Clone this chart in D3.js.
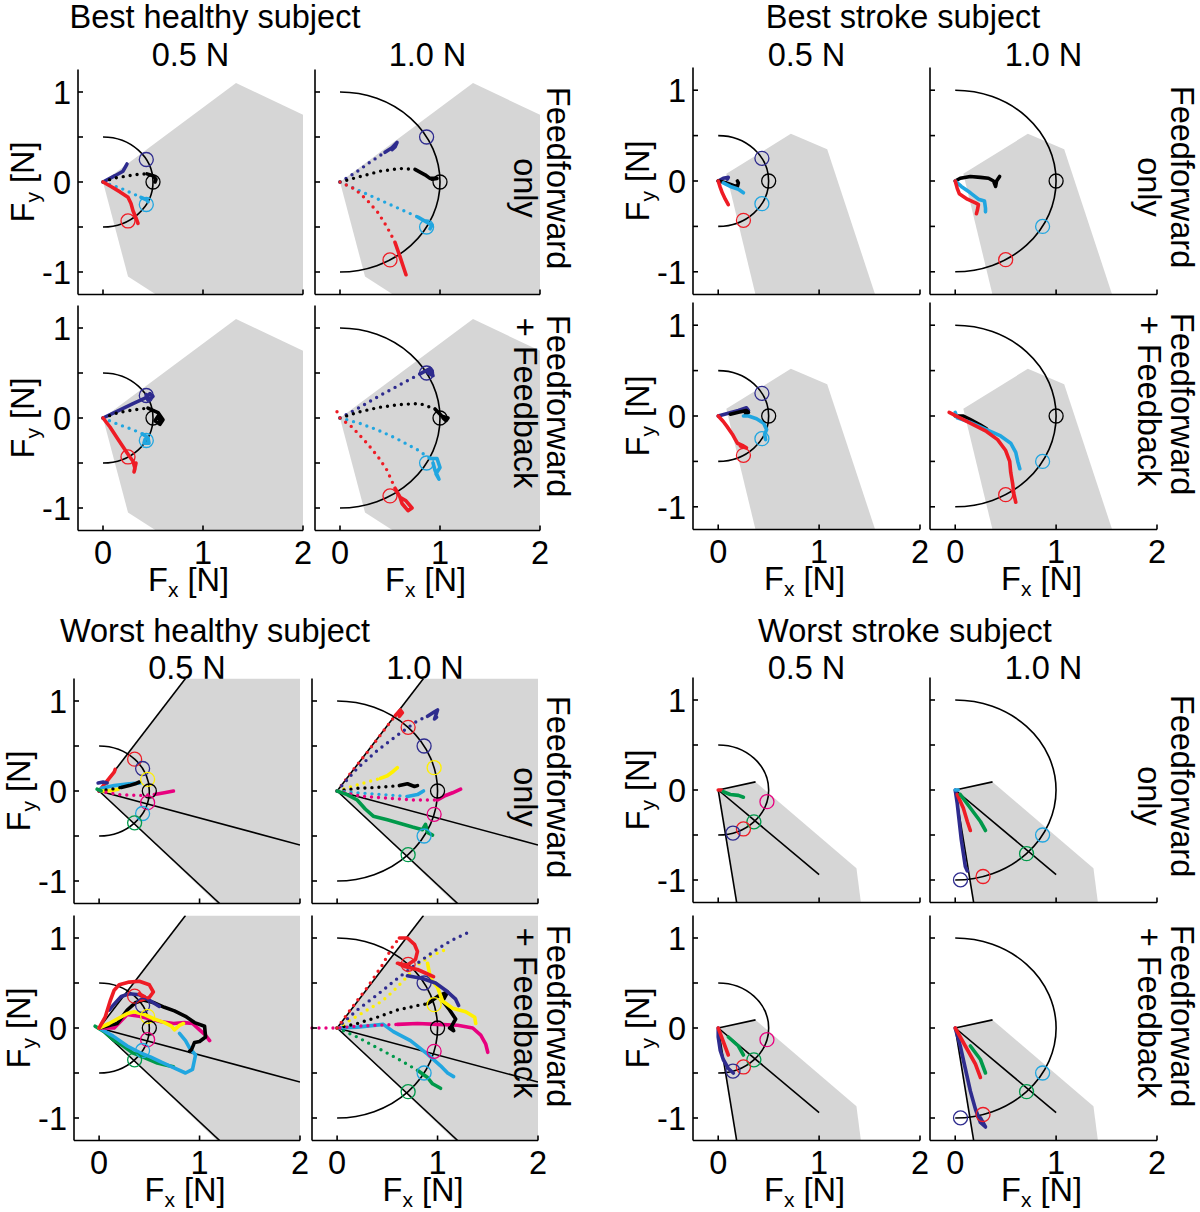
<!DOCTYPE html>
<html><head><meta charset="utf-8">
<script src="https://cdn.jsdelivr.net/npm/d3@7"></script>
<style>
body{margin:0;background:#fff}
text{font-family:"Liberation Sans",Arial,Helvetica,sans-serif;fill:#000}
</style>
</head><body>
<svg id="chart" width="1200" height="1212"></svg>
<script>
// ---------------- DATA ----------------
const subjects = ["Best healthy subject","Best stroke subject","Worst healthy subject","Worst stroke subject"];
const forceLevels = ["0.5 N","1.0 N"];
const targetRadii = [0.5, 1.0];
const conditions = [["Feedforward","only"],["Feedforward","+ Feedback"]];
const xTicks = [0,1,2];
const xTickLabels = ["0","1","2"];
const yTicks = [-1,-0.5,0,0.5,1];
const yTickLabeled = [-1,0,1];
const yTickLabels = ["-1","0","1"];
const colorKeys = ["navy","black","cyan","red","yellow","magenta","green"];
const colorValues = ["#2e2b8e","#000000","#21a6e0","#ee1c25","#fff000","#e8007f","#00994a"];

// workspaces (force space reachable region)
const wsBestHealthy = [[0,0],[1.33,1.1],[2.05,0.72],[2.05,-1.3],[0.6,-1.3],[0.25,-1.05]];
const wsBestStroke  = [[0.08,0.08],[0.72,0.52],[1.08,0.35],[1.57,-1.3],[0.38,-1.3]];
const wsWorstHealthy = [[0,0],[0.86,1.25],[2.05,1.25],[2.05,-1.3],[1.22,-1.3]];
const wsWorstStroke = [[0,0],[0.37,0.09],[1.37,-0.87],[1.42,-1.3],[0.19,-1.3]];
const linesWorstHealthy = [[[0,0],[0.86,1.25]],[[0,0],[1.2,-1.25]],[[0,0],[2.0,-0.6]]];
const linesWorstStroke = [[[0,0],[0.37,0.09]],[[0,0],[0.19,-1.3]],[[0,0],[1.0,-0.94]]];

// targets: [angle in degrees, colour]
const targetsBest = [[30,"navy"],[0,"black"],[-30,"cyan"],[-60,"red"]];
const targetsBestStroke10 = [[0,"black"],[-30,"cyan"],[-60,"red"]];
const targetsWorstHealthy = [[45,"red"],[30,"navy"],[15,"yellow"],[0,"black"],[-15,"magenta"],[-30,"cyan"],[-45,"green"]];
const targetsWorstStroke05 = [[-15,"magenta"],[-45,"green"],[-60,"red"],[-73,"navy"]];
const targetsWorstStroke10 = [[-30,"cyan"],[-45,"green"],[-74,"red"],[-87,"navy"]];

// trajectories: c = colour, dots = fast (dotted) part, line = slow (solid) part
const bhFF05 = [
 {c:"navy", line:[[0,0],[0.12,0.07],[0.2,0.12],[0.23,0.18],[0.24,0.2],[0.22,0.16]]},
 {c:"black", dots:[[0,0],[0.1,0.04],[0.24,0.067],[0.35,0.085],[0.44,0.09]], line:[[0.44,0.09],[0.5,0.07],[0.53,0.03],[0.52,0.0]]},
 {c:"cyan", dots:[[0,0],[0.2,-0.08],[0.38,-0.17]], line:[[0.38,-0.17],[0.44,-0.2],[0.45,-0.22]]},
 {c:"red", line:[[0,0],[0.08,-0.05],[0.17,-0.11],[0.25,-0.17],[0.28,-0.24],[0.3,-0.32],[0.33,-0.4],[0.35,-0.46]]}
];
const bhFF10 = [
 {c:"navy", dots:[[0,0],[0.15,0.1],[0.3,0.22],[0.45,0.33]], line:[[0.45,0.33],[0.52,0.38],[0.57,0.44],[0.55,0.39],[0.52,0.36]]},
 {c:"black", dots:[[0,0],[0.2,0.06],[0.4,0.12],[0.6,0.15],[0.75,0.14]], line:[[0.75,0.14],[0.85,0.08],[0.9,0.04],[0.97,0.04],[0.92,0.03]]},
 {c:"cyan", dots:[[0,0],[0.2,-0.1],[0.4,-0.2],[0.6,-0.3],[0.78,-0.39]], line:[[0.78,-0.39],[0.92,-0.48],[0.9,-0.52]]},
 {c:"red", dots:[[0,0],[0.15,-0.08],[0.27,-0.2],[0.38,-0.34],[0.47,-0.5],[0.55,-0.67]], line:[[0.55,-0.67],[0.6,-0.83],[0.63,-0.93],[0.66,-1.03]]}
];
const bhFB05 = [
 {c:"navy", line:[[0,0],[0.15,0.08],[0.3,0.16],[0.42,0.22],[0.47,0.27],[0.5,0.24],[0.45,0.2],[0.43,0.26]]},
 {c:"black", dots:[[0,0],[0.15,0.06],[0.3,0.09],[0.45,0.11]], line:[[0.45,0.11],[0.55,0.06],[0.6,-0.02],[0.57,-0.07],[0.52,-0.03],[0.55,0.02],[0.58,-0.05]]},
 {c:"cyan", dots:[[0,0],[0.15,-0.07],[0.3,-0.13],[0.4,-0.18]], line:[[0.4,-0.18],[0.45,-0.22],[0.46,-0.28],[0.41,-0.28],[0.42,-0.24]]},
 {c:"red", line:[[0,0],[0.07,-0.1],[0.14,-0.22],[0.2,-0.32],[0.26,-0.42],[0.3,-0.48],[0.32,-0.56],[0.31,-0.6],[0.33,-0.5]]}
];
const bhFB10 = [
 {c:"navy", dots:[[0,0],[0.2,0.12],[0.4,0.25],[0.6,0.37],[0.8,0.49]], line:[[0.8,0.49],[0.9,0.55],[0.93,0.47],[0.88,0.5],[0.92,0.52]]},
 {c:"black", dots:[[0,0],[0.2,0.07],[0.4,0.12],[0.6,0.15],[0.8,0.16],[0.95,0.1]], line:[[0.95,0.1],[1.02,0.02],[1.08,0.0],[1.06,-0.03],[1.03,0.0]]},
 {c:"cyan", dots:[[0,0],[0.2,-0.06],[0.37,-0.13],[0.55,-0.22],[0.77,-0.35],[0.9,-0.45]], line:[[0.9,-0.45],[0.97,-0.45],[1.0,-0.55],[0.96,-0.62],[0.99,-0.68],[0.95,-0.58],[0.93,-0.5]]},
 {c:"red", dots:[[-0.03,0.07],[0,0],[0.12,-0.1],[0.27,-0.28],[0.38,-0.43],[0.47,-0.58],[0.55,-0.78]], line:[[0.55,-0.78],[0.6,-0.88],[0.66,-0.92],[0.72,-1.0],[0.68,-1.03],[0.62,-0.95],[0.6,-0.88]]}
];
const bsFF05 = [
 {c:"navy", line:[[0,0],[0.05,0.03],[0.1,0.04],[0.09,0.02]]},
 {c:"black", line:[[0,0],[0.08,-0.02],[0.15,-0.05],[0.19,-0.06],[0.2,-0.02],[0.19,0.0]]},
 {c:"cyan", line:[[0.05,-0.02],[0.12,-0.06],[0.2,-0.09],[0.25,-0.13]]},
 {c:"red", line:[[0,0],[0.02,-0.07],[0.04,-0.13],[0.07,-0.2],[0.1,-0.26]]}
];
const bsFF10 = [
 {c:"black", line:[[0,0],[0.05,0.03],[0.15,0.05],[0.25,0.04],[0.33,0.03],[0.38,0.0],[0.4,-0.06],[0.41,0.0],[0.44,0.05]]},
 {c:"cyan", line:[[0,0],[0.06,-0.06],[0.15,-0.13],[0.23,-0.2],[0.29,-0.22],[0.3,-0.3],[0.3,-0.34]]},
 {c:"red", line:[[0,0],[0.02,-0.08],[0.04,-0.14],[0.12,-0.2],[0.2,-0.24],[0.23,-0.26],[0.22,-0.32],[0.21,-0.36]]}
];
const bsFB05 = [
 {c:"navy", line:[[0,0],[0.1,0.03],[0.2,0.06],[0.28,0.09],[0.3,0.06]]},
 {c:"black", line:[[0.12,0.02],[0.2,0.04],[0.28,0.06],[0.3,0.04],[0.27,0.02]]},
 {c:"cyan", line:[[0.25,0.0],[0.3,0.0],[0.38,-0.03],[0.45,-0.08],[0.48,-0.15],[0.46,-0.2],[0.47,-0.26]]},
 {c:"red", line:[[0,0],[0.05,-0.06],[0.09,-0.12],[0.14,-0.2],[0.17,-0.26],[0.19,-0.3],[0.25,-0.33],[0.28,-0.35],[0.22,-0.33]]}
];
const bsFB10 = [
 {c:"black", line:[[0,0],[0.08,0.0],[0.15,-0.04],[0.25,-0.1],[0.31,-0.14]]},
 {c:"cyan", line:[[0,0.04],[0.02,-0.02],[0.15,-0.07],[0.31,-0.15],[0.45,-0.22],[0.55,-0.3],[0.6,-0.4],[0.62,-0.5],[0.64,-0.58]]},
 {c:"red", line:[[-0.06,0.04],[0.1,-0.05],[0.31,-0.17],[0.42,-0.26],[0.5,-0.38],[0.54,-0.5],[0.55,-0.62],[0.57,-0.75],[0.58,-0.85],[0.6,-0.95]]}
];
const whFF05 = [
 {c:"red", line:[[0,0],[0.05,0.07],[0.1,0.14],[0.15,0.21],[0.16,0.24]]},
 {c:"navy", line:[[-0.01,0.09],[0.04,0.1],[0.08,0.09]]},
 {c:"cyan", line:[[0.02,0.03],[0.15,0.06],[0.3,0.08],[0.41,0.09]]},
 {c:"yellow", line:[[0,0],[0.08,0.0],[0.15,0.01],[0.19,0.02]]},
 {c:"black", dots:[[0,0],[0.12,0.02],[0.22,0.04]], line:[[0.22,0.04],[0.3,0.06],[0.36,0.08],[0.4,0.1]]},
 {c:"magenta", dots:[[0,0],[0.2,-0.04],[0.4,-0.05],[0.55,-0.04]], line:[[0.55,-0.04],[0.65,-0.02],[0.74,0.0]]},
 {c:"green", line:[[-0.02,0.02],[0.02,0.0]]}
];
const whFF10 = [
 {c:"red", dots:[[0,0],[0.15,0.22],[0.3,0.43],[0.45,0.65],[0.58,0.84]], line:[[0.58,0.84],[0.63,0.9],[0.65,0.87],[0.62,0.83]]},
 {c:"navy", dots:[[0,0],[0.2,0.25],[0.4,0.45],[0.6,0.62],[0.8,0.78],[0.9,0.83]], line:[[0.9,0.83],[0.97,0.88],[1.0,0.9],[0.97,0.8],[0.99,0.82]]},
 {c:"yellow", dots:[[0,0],[0.15,0.05],[0.3,0.1],[0.43,0.14]], line:[[0.43,0.14],[0.5,0.17],[0.56,0.22],[0.6,0.26]]},
 {c:"black", dots:[[0,0],[0.2,0.03],[0.4,0.04],[0.62,0.06]], line:[[0.62,0.06],[0.7,0.08],[0.77,0.05],[0.8,0.06]]},
 {c:"cyan", dots:[[0,0],[0.2,-0.02],[0.45,-0.04],[0.7,-0.06]], line:[[0.7,-0.06],[0.8,-0.04],[0.86,0.0]]},
 {c:"magenta", dots:[[0,0],[0.25,-0.06],[0.5,-0.08],[0.75,-0.1],[1.0,-0.1]], line:[[1.0,-0.1],[1.08,-0.05],[1.15,-0.02],[1.23,0.02]]},
 {c:"green", line:[[0,0],[0.1,-0.04],[0.2,-0.1],[0.28,-0.2],[0.36,-0.28],[0.5,-0.32],[0.63,-0.36],[0.75,-0.4],[0.85,-0.43],[0.88,-0.37],[0.9,-0.46],[0.95,-0.49]]}
];
const whFB05 = [
 {c:"green", line:[[-0.04,0.02],[0.05,-0.04],[0.14,-0.13],[0.24,-0.2],[0.34,-0.28],[0.45,-0.33],[0.58,-0.39],[0.66,-0.41],[0.74,-0.43]]},
 {c:"cyan", line:[[0,0],[0.14,-0.09],[0.28,-0.2],[0.4,-0.27],[0.51,-0.32],[0.62,-0.38],[0.74,-0.44],[0.86,-0.5],[0.93,-0.46],[0.96,-0.3],[0.9,-0.22],[0.86,-0.14],[0.8,-0.06]]},
 {c:"magenta", line:[[0,0],[0.15,0.0],[0.22,0.08],[0.28,0.15],[0.4,0.13],[0.51,0.1],[0.62,0.07],[0.74,0.05],[0.85,0.06],[0.93,0.05],[1.0,-0.02],[1.06,-0.08],[1.1,-0.14]]},
 {c:"black", line:[[0,0],[0.18,0.05],[0.28,0.2],[0.36,0.28],[0.44,0.31],[0.55,0.28],[0.65,0.23],[0.75,0.19],[0.86,0.13],[0.95,0.06],[1.05,0.02],[1.06,-0.1],[1.0,-0.15],[0.95,-0.16],[0.92,-0.24],[0.9,-0.26]]},
 {c:"navy", line:[[0.1,0.2],[0.17,0.29],[0.22,0.35],[0.3,0.38],[0.4,0.37],[0.47,0.33],[0.54,0.28],[0.6,0.24]]},
 {c:"yellow", line:[[0,0],[0.1,0.05],[0.18,0.1],[0.28,0.16],[0.35,0.18],[0.45,0.15],[0.55,0.1],[0.65,0.06],[0.72,0.02],[0.75,-0.02],[0.8,0.03],[0.84,0.05]]},
 {c:"red", line:[[0,0],[0.06,0.12],[0.11,0.3],[0.15,0.42],[0.2,0.48],[0.3,0.51],[0.4,0.52],[0.5,0.48],[0.54,0.4],[0.5,0.34],[0.42,0.31],[0.45,0.35],[0.4,0.38]]}
];
const whFB10 = [
 {c:"green", dots:[[0,0],[0.2,-0.1],[0.4,-0.22],[0.6,-0.34],[0.8,-0.47]], line:[[0.8,-0.47],[0.9,-0.55],[0.95,-0.62],[1.03,-0.67]]},
 {c:"cyan", line:[[0,0],[0.2,0.01],[0.46,0.04],[0.56,-0.04],[0.73,-0.14],[0.9,-0.29],[1.03,-0.42],[1.1,-0.5],[1.16,-0.54]]},
 {c:"magenta", dots:[[-0.25,0.0],[-0.1,0.0],[0,0],[0.2,0.02],[0.4,0.03],[0.6,0.04]], line:[[0.6,0.04],[0.8,0.05],[1.0,0.04],[1.2,0.03],[1.35,0.0],[1.43,-0.08],[1.48,-0.18],[1.5,-0.27]]},
 {c:"black", dots:[[0,0],[0.2,0.05],[0.4,0.12],[0.6,0.2],[0.8,0.25],[0.9,0.27]], line:[[0.9,0.27],[1.0,0.35],[1.1,0.4],[1.05,0.3],[1.12,0.2],[1.18,0.1],[1.14,0.02],[1.16,-0.03],[1.12,0.0]]},
 {c:"yellow", dots:[[0,0],[0.15,0.1],[0.3,0.2],[0.45,0.3],[0.55,0.4],[0.68,0.55],[0.8,0.7],[0.93,0.8],[1.1,0.88]], line:[[0.9,0.72],[0.93,0.55],[1.0,0.45],[1.05,0.3],[1.15,0.22],[1.28,0.18],[1.37,0.12],[1.38,0.05]]},
 {c:"navy", dots:[[0,0],[0.2,0.2],[0.4,0.37],[0.6,0.55],[0.8,0.72],[1.0,0.88],[1.15,0.98],[1.34,1.08]], line:[[0.7,0.58],[0.85,0.55],[0.98,0.5],[1.08,0.42],[1.18,0.32],[1.21,0.25]]},
 {c:"red", dots:[[0,0],[0.15,0.23],[0.3,0.45],[0.45,0.7],[0.55,0.9],[0.62,1.0]], line:[[0.62,1.0],[0.7,1.0],[0.77,0.93],[0.8,0.85],[0.78,0.76],[0.7,0.7],[0.6,0.72],[0.68,0.68],[0.8,0.65],[0.9,0.6],[0.96,0.57]]}
];
const wsFF05 = [
 {c:"red", line:[[0,0],[0.03,0.0]]},
 {c:"green", line:[[0.05,-0.02],[0.12,-0.05],[0.2,-0.06],[0.25,-0.08]]}
];
const wsFF10 = [
 {c:"navy", line:[[0,0],[0.02,-0.15],[0.04,-0.35],[0.06,-0.55],[0.08,-0.7],[0.1,-0.85],[0.12,-0.9]]},
 {c:"red", line:[[0.02,-0.05],[0.08,-0.2],[0.12,-0.35],[0.15,-0.45]]},
 {c:"green", line:[[0.05,-0.05],[0.15,-0.2],[0.25,-0.35],[0.3,-0.45]]},
 {c:"cyan", line:[[0,0],[0.03,0.0]]}
];
const wsFB05 = [
 {c:"navy", line:[[0,0],[0.0,-0.1],[0.02,-0.25],[0.05,-0.35],[0.1,-0.45],[0.15,-0.5]]},
 {c:"red", line:[[0,0],[0.05,-0.15],[0.1,-0.3]]},
 {c:"green", line:[[0.1,-0.1],[0.2,-0.2],[0.25,-0.3]]}
];
const wsFB10 = [
 {c:"navy", line:[[0,0],[0.05,-0.2],[0.1,-0.45],[0.15,-0.7],[0.2,-0.9],[0.25,-1.05],[0.3,-1.1],[0.25,-1.0]]},
 {c:"red", line:[[0,0],[0.1,-0.2],[0.2,-0.4],[0.25,-0.55]]},
 {c:"green", line:[[0.15,-0.2],[0.25,-0.35],[0.3,-0.5]]}
];

// ---------------- LAYOUT ----------------
const groupLayout = [
 {cols:[78,315], rows:[69.5,305.5], w:225, h:225, titleX:215, titleY:28, headY:66, labelX:547, ws:wsBestHealthy, lines:null,
  targets:[targetsBest,targetsBest], traj:[[bhFF05,bhFF10],[bhFB05,bhFB10]]},
 {cols:[693,930], rows:[67.5,302.5], w:227, h:227, titleX:903, titleY:28, headY:66, labelX:1171, ws:wsBestStroke, lines:null,
  targets:[targetsBest,targetsBestStroke10], traj:[[bsFF05,bsFF10],[bsFB05,bsFB10]]},
 {cols:[74,312], rows:[678.5,915.5], w:226, h:225, titleX:215, titleY:642, headY:679, labelX:547, ws:wsWorstHealthy, lines:linesWorstHealthy,
  targets:[targetsWorstHealthy,targetsWorstHealthy], traj:[[whFF05,whFF10],[whFB05,whFB10]]},
 {cols:[693,930], rows:[677.5,915.5], w:227, h:225, titleX:905, titleY:642, headY:679, labelX:1171, ws:wsWorstStroke, lines:linesWorstStroke,
  targets:[targetsWorstStroke05,targetsWorstStroke10], traj:[[wsFF05,wsFF10],[wsFB05,wsFB10]]}
];
// vertical offsets of the two row-label lines from the row centre
const rowLabelShift = [[-4, 6], [-12, -15]];

const FS = 32.5, SUB = 21;
const color = d3.scaleOrdinal().domain(colorKeys).range(colorValues);
const svg = d3.select("#chart");
let clipId = 0;

groupLayout.forEach((G, gi) => {
  svg.append("text").attr("x", G.titleX).attr("y", G.titleY).attr("text-anchor","middle")
     .attr("font-size", FS).text(subjects[gi]);
  G.cols.forEach((cx, ci) => {
    svg.append("text").attr("x", cx + G.w/2).attr("y", G.headY).attr("text-anchor","middle")
       .attr("font-size", FS).text(forceLevels[ci]);
  });
  G.rows.forEach((ry, ri) => {
    G.cols.forEach((cx, ci) => {
      const x = d3.scaleLinear().domain([-0.25, 2.0]).range([cx, cx + G.w]);
      const y = d3.scaleLinear().domain([-1.25, 1.25]).range([ry + G.h, ry]);
      const g = svg.append("g");
      const id = "clip" + (clipId++);
      g.append("clipPath").attr("id", id).append("rect")
        .attr("x", cx).attr("y", ry).attr("width", G.w).attr("height", G.h);
      const inner = g.append("g").attr("clip-path", `url(#${id})`);
      const line = d3.line().x(d => x(d[0])).y(d => y(d[1]));
      inner.append("path").attr("d", line(G.ws) + "Z").attr("fill", "#d6d6d6");
      if (G.lines) G.lines.forEach(l => inner.append("path").attr("d", line(l))
          .attr("stroke","#000").attr("stroke-width",1.6).attr("fill","none"));
      // semicircle
      const r = targetRadii[ci];
      const rx = x(r) - x(0), ryy = y(0) - y(r);
      g.append("path").attr("d", `M${x(0)},${y(r)} A${rx},${ryy} 0 0 1 ${x(0)},${y(-r)}`)
        .attr("fill","none").attr("stroke","#000").attr("stroke-width",1.6);
      // trajectories
      G.traj[ri][ci].forEach(t => {
        if (t.dots) g.append("path").attr("d", line(t.dots)).attr("fill","none")
          .attr("stroke", color(t.c)).attr("stroke-width", 3.4).attr("stroke-linecap","round")
          .attr("stroke-dasharray","0 7");
        if (t.line) g.append("path").attr("d", line(t.line)).attr("fill","none")
          .attr("stroke", color(t.c)).attr("stroke-width", 3.6).attr("stroke-linecap","round")
          .attr("stroke-linejoin","round");
      });
      // targets
      G.targets[ci].forEach(([a, c]) => {
        const th = a * Math.PI / 180;
        g.append("circle").attr("cx", x(r * Math.cos(th))).attr("cy", y(r * Math.sin(th)))
          .attr("r", 7).attr("fill","none").attr("stroke", color(c)).attr("stroke-width",1.3);
      });
      // axes
      const ax = g.append("g").attr("stroke","#000").attr("stroke-width",1.6);
      ax.append("line").attr("x1",cx).attr("x2",cx).attr("y1",ry).attr("y2",ry+G.h);
      ax.append("line").attr("x1",cx).attr("x2",cx+G.w).attr("y1",ry+G.h).attr("y2",ry+G.h);
      yTicks.forEach(v => ax.append("line").attr("x1",cx).attr("x2",cx+5).attr("y1",y(v)).attr("y2",y(v)));
      xTicks.forEach(v => ax.append("line").attr("x1",x(v)).attr("x2",x(v)).attr("y1",ry+G.h).attr("y2",ry+G.h-5));
      if (ci === 0) {
        yTickLabeled.forEach((v, i) => g.append("text").attr("x", cx - 7).attr("y", y(v)).attr("dy","0.36em")
          .attr("text-anchor","end").attr("font-size", FS).text(yTickLabels[i]));
        const yl = g.append("text").attr("font-size", FS).attr("text-anchor","middle")
          .attr("transform", `translate(${cx-44},${ry + G.h/2}) rotate(-90)`);
        yl.append("tspan").text("F");
        yl.append("tspan").attr("font-size", SUB).attr("dy", 6).text("y");
        yl.append("tspan").attr("dy", -6).text(" [N]");
      }
      if (ri === 1) {
        xTicks.forEach((v, i) => g.append("text").attr("x", x(v)).attr("y", ry + G.h + 33)
          .attr("text-anchor","middle").attr("font-size", FS).text(xTickLabels[i]));
        const xl = g.append("text").attr("font-size", FS).attr("text-anchor","middle")
          .attr("x", cx + G.w/2 - 2).attr("y", ry + G.h + 60);
        xl.append("tspan").text("F");
        xl.append("tspan").attr("font-size", SUB).attr("dy", 6).text("x");
        xl.append("tspan").attr("dy", -6).text(" [N]");
      }
    });
    // row label (drawn after the panels so it sits on top)
    const cy = ry + G.h/2;
    const lab = svg.append("text").attr("font-size", FS).attr("text-anchor","middle")
      .attr("transform", `translate(${G.labelX},${cy}) rotate(90)`);
    lab.append("tspan").attr("x", rowLabelShift[ri][0]).attr("y",0).text(conditions[ri][0]);
    lab.append("tspan").attr("x", rowLabelShift[ri][1]).attr("y",33).text(conditions[ri][1]);
  });
});
</script>
</body></html>
